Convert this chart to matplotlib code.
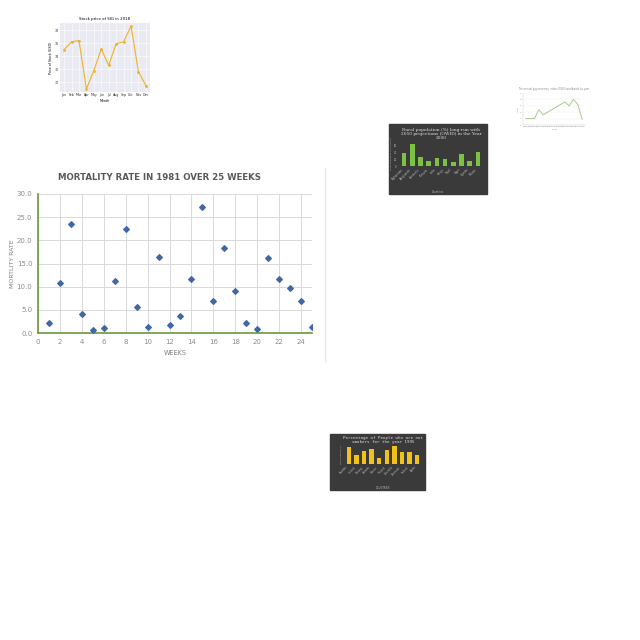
import matplotlib
matplotlib.use('Agg')
from matplotlib import pyplot as plt
from matplotlib.patches import Rectangle

# main chart data
weeks = list(range(1, 26))
mortality = [2.1, 10.7, 23.5, 4.1, 0.7, 1.1, 11.3, 22.5, 5.6, 1.4,
             16.4, 1.7, 3.6, 11.6, 27.3, 6.8, 18.3, 9.0, 2.2, 0.8,
             16.2, 11.6, 9.8, 7.0, 1.2]

# small thumbnail charts
months = ["Jan", "Feb", "Mar", "Apr", "May", "Jun", "Jul", "Aug", "Sep", "Oct", "Nov", "Dec"]
stock_price = [75.0, 76.2, 76.4, 69.0, 71.8, 75.1, 72.6, 75.9, 76.2, 78.6, 71.6, 69.5]

rural_countries = ["Afghanistan", "Bangladesh", "Cambodia", "Ethiopia", "India",
                   "Kenya", "Nepal", "Niger", "Uganda", "Malawi"]
rural_pct = [39, 65, 25, 15, 23, 19, 12, 34, 15, 40]

trend_years = ["1990", "1992", "1994", "1996", "1998", "2000", "2002", "2004",
               "2006", "2008", "2010", "2012", "2014", "2016"]
trend_values = [3.0, 3.0, 3.0, 4.4, 3.6, 4.0, 4.4, 4.8, 5.2, 5.6, 5.0, 6.0, 5.2, 2.9]

smoke_countries = ["Sweden", "Iceland", "Norway", "Canada", "Greece",
                   "Finland", "Australia", "Denmark", "Ireland", "Japan"]
non_smokers = [45, 25, 33, 40, 16, 37, 48, 31, 32, 25]


def fx(px):
    return px / 640


def fy(py):
    return 1 - py / 640


def box(x0, y0, x1, y1):
    # pixel box -> figure axes rect
    return [fx(x0), fy(y1), (x1 - x0) / 640, (y1 - y0) / 640]


fig = plt.figure(figsize=(6.4, 6.4), dpi=100)

# ---- main scatter chart ----
ax = fig.add_axes(box(38, 194, 312, 333))
ax.scatter(weeks, mortality, marker='D', s=8, color='#4167A8', zorder=3)
ax.set_xlim(0, 25)
ax.set_ylim(0, 30)
ax.set_xticks(range(0, 25, 2))
ax.set_yticks(range(0, 31, 5))
ax.set_yticklabels(["%.1f" % v for v in range(0, 31, 5)])
ax.grid(True, color='#D9D9D9', linewidth=0.7)
ax.set_axisbelow(True)
for side in ['top', 'right']:
    ax.spines[side].set_visible(False)
for side in ['left', 'bottom']:
    ax.spines[side].set_color('#6A9A3A')
    ax.spines[side].set_linewidth(1.2)
ax.tick_params(length=0, labelsize=5, labelcolor='#8C8C8C', pad=4)
ax.set_xlabel("WEEKS", fontsize=4.7, color='#7F7F7F', labelpad=4)
ax.set_ylabel("MORTLITY RATE", fontsize=4.5, color='#7F7F7F', labelpad=1.5)
fig.text(fx(160), fy(178), "MORTALITY RATE IN 1981 OVER 25 WEEKS",
         ha='center', va='center', fontsize=6.2, fontweight='bold', color='#595959')
fig.add_artist(plt.Line2D([fx(325), fx(325)], [fy(168), fy(362)],
                          color='#E6E6E6', linewidth=0.8))

# ---- stock price thumbnail ----
ax1 = fig.add_axes(box(60, 23, 150, 92))
ax1.set_facecolor('#EAEAF2')
ax1.plot(months, stock_price, color='#F0B323', marker='o', markersize=1, linewidth=0.8)
ax1.set_yticks([70, 72, 74, 76, 78])
ax1.grid(True, color='white', linewidth=0.4)
for s in ax1.spines.values():
    s.set_visible(False)
ax1.tick_params(length=0, labelsize=2.3, pad=1, labelcolor='#333333')
ax1.set_title("Stock price of SIG in 2018", fontsize=2.8, pad=2)
ax1.set_xlabel("Month", fontsize=2.3, labelpad=1)
ax1.set_ylabel("Price of Stock (USD)", fontsize=2.3, labelpad=1)

# ---- rural population thumbnail ----
fig.patches.append(Rectangle((fx(389), fy(194)), 98 / 640, 70 / 640,
                             transform=fig.transFigure, color='#3A3A3A', zorder=-1))
ax2 = fig.add_axes(box(398, 142, 484, 166))
ax2.set_zorder(2)
ax2.set_facecolor('#3A3A3A')
ax2.bar(rural_countries, rural_pct, color='#7CC142', width=0.55)
ax2.set_ylim(0, 70)
for s in ax2.spines.values():
    s.set_visible(False)
ax2.tick_params(length=0, labelsize=1.8, colors='#BBBBBB', pad=1)
ax2.tick_params(axis='x', labelrotation=45)
for t in ax2.get_xticklabels():
    t.set_ha('right')
ax2.set_title("Rural population (%) long-run with\n2050 projections (OWID) in the Year\n2000",
              fontsize=3.2, color='#DDDDDD', family='DejaVu Serif', pad=2, linespacing=1.1)
ax2.set_ylabel("Rural population (%) long-run", fontsize=1.6, color='#BBBBBB', labelpad=1)
fig.text(fx(438), fy(192), "Countries", fontsize=1.8, color='#BBBBBB', ha='center', va='center')

# ---- line thumbnail ----
ax3 = fig.add_axes(box(523, 93, 585, 125))
ax3.plot(trend_years, trend_values, color='#A9C98A', linewidth=0.7)
ax3.set_ylim(2, 7)
ax3.grid(True, axis='y', color='#EEEEEE', linewidth=0.3)
for side in ['top', 'right']:
    ax3.spines[side].set_visible(False)
for side in ['left', 'bottom']:
    ax3.spines[side].set_color('#CCCCCC')
    ax3.spines[side].set_linewidth(0.3)
ax3.tick_params(length=0, labelsize=1.5, colors='#888888', pad=1)
ax3.set_title("The annual gig economy index (GGEI) worldwide by year",
              fontsize=1.8, color='#888888', pad=2)
ax3.set_xlabel("Year", fontsize=1.6, color='#888888', labelpad=1)
ax3.set_ylabel("Index", fontsize=1.6, color='#888888', labelpad=1)

# ---- non-smokers thumbnail ----
fig.patches.append(Rectangle((fx(330), fy(490)), 95 / 640, 56 / 640,
                             transform=fig.transFigure, color='#3A3A3A', zorder=-1))
ax4 = fig.add_axes(box(343, 445, 423, 464))
ax4.set_zorder(2)
ax4.set_facecolor('#3A3A3A')
ax4.bar(smoke_countries, non_smokers, color='#F2C21B', width=0.6)
ax4.set_ylim(0, 50)
ax4.set_yticks([])
for s in ax4.spines.values():
    s.set_visible(False)
ax4.tick_params(length=0, labelsize=1.8, colors='#BBBBBB', pad=1)
ax4.tick_params(axis='x', labelrotation=45)
for t in ax4.get_xticklabels():
    t.set_ha('right')
ax4.set_title("Percentage of People who are not\nsmokers for the year 1995",
              fontsize=3, color='#DDDDDD', family='DejaVu Sans Mono', pad=1.5, linespacing=1.1)
ax4.set_ylabel("Non-smokers (%)", fontsize=1.6, color='#BBBBBB', labelpad=1)
fig.text(fx(383), fy(488), "COUNTRIES", fontsize=1.8, color='#BBBBBB', ha='center', va='center')

fig.savefig('out.png', dpi=100)
